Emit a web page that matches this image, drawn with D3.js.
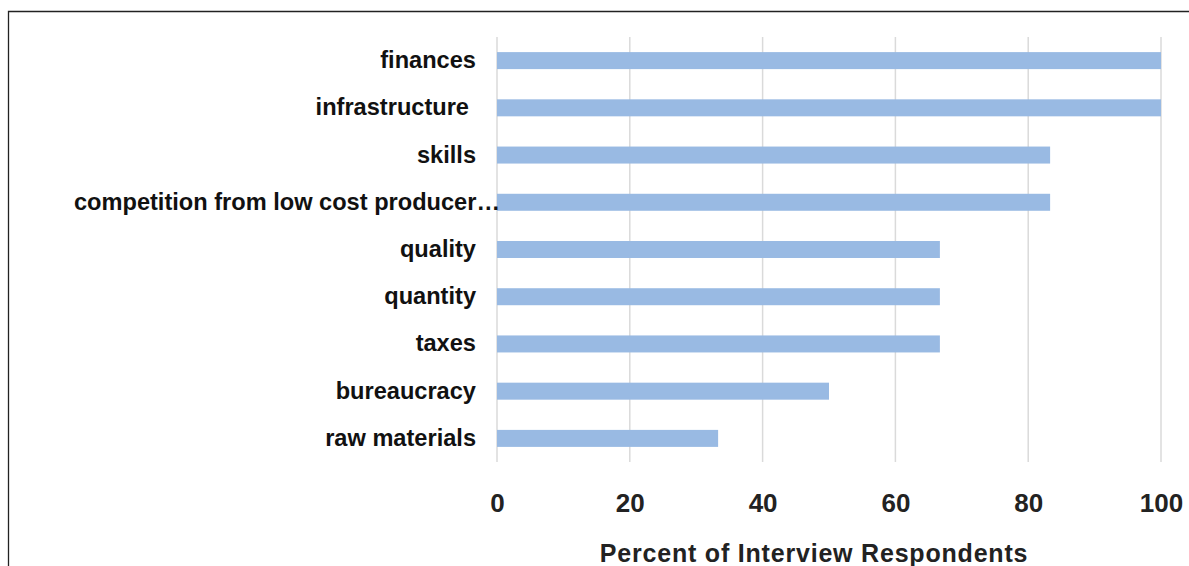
<!DOCTYPE html>
<html>
<head>
<meta charset="utf-8">
<script src="https://cdn.jsdelivr.net/npm/d3@7"></script>
<style>
  html, body { margin: 0; padding: 0; background: #fff; }
  svg { display: block; }
</style>
</head>
<body>
<svg id="chart" width="1189" height="566"></svg>
<script>
// Obstacles reported by interview respondents
const categories = [
  "finances",
  "infrastructure",
  "skills",
  "competition from low cost producer\u2026",
  "quality",
  "quantity",
  "taxes",
  "bureaucracy",
  "raw materials"
];
const percentValues = [100, 100, 83.3, 83.3, 66.7, 66.7, 66.7, 50, 33.3];
const tickValues = [0, 20, 40, 60, 80, 100];
const axisTitle = "Percent of Interview Respondents";

const svg = d3.select("#chart");
const W = 1189, H = 566;
const plot = { left: 497, right: 1161, top: 37, bottom: 462 };
const font = "Liberation Sans, Arial, sans-serif";

// frame around the figure
svg.append("path")
  .attr("d", `M8.5,${H} V11.5 H${W}`)
  .attr("fill", "none")
  .attr("stroke", "#222")
  .attr("stroke-width", 1.3);

const x = d3.scaleLinear().domain([0, 100]).range([plot.left, plot.right]);
const y = d3.scaleBand().domain(categories).range([plot.top, plot.bottom]).paddingInner(0.64).paddingOuter(0.32);

// vertical gridlines
svg.append("g")
  .selectAll("line")
  .data(tickValues)
  .join("line")
  .attr("x1", d => x(d)).attr("x2", d => x(d))
  .attr("y1", plot.top).attr("y2", plot.bottom)
  .attr("stroke", "#dadada")
  .attr("stroke-width", 1.5);

// bars
svg.append("g")
  .selectAll("rect")
  .data(categories)
  .join("rect")
  .attr("x", x(0))
  .attr("y", d => y(d))
  .attr("width", (d, i) => x(percentValues[i]) - x(0))
  .attr("height", y.bandwidth())
  .attr("fill", "#99bae3");

// category labels
const labelX = { "infrastructure": 469, "competition from low cost producer\u2026": 500 };
svg.append("g")
  .selectAll("text")
  .data(categories)
  .join("text")
  .attr("x", d => labelX[d] !== undefined ? labelX[d] : 476)
  .attr("y", d => y(d) + y.bandwidth() / 2)
  .attr("dy", "0.32em")
  .attr("text-anchor", "end")
  .attr("font-family", font)
  .attr("font-weight", "bold")
  .attr("font-size", 23.6)
  .attr("fill", "#111")
  .text(d => d);

// x axis tick labels
const axis = d3.axisBottom(x).tickValues(tickValues).tickSize(0).tickPadding(0);
const gAxis = svg.append("g")
  .attr("transform", `translate(0, 512)`)
  .call(axis);
gAxis.select(".domain").remove();
gAxis.selectAll("text")
  .attr("y", 0)
  .attr("dy", 0)
  .attr("font-family", font)
  .attr("font-weight", "bold")
  .attr("font-size", 26)
  .attr("fill", "#222");

// axis title
svg.append("text")
  .attr("x", 814)
  .attr("y", 562)
  .attr("text-anchor", "middle")
  .attr("font-family", font)
  .attr("font-weight", "bold")
  .attr("font-size", 25)
  .attr("letter-spacing", 0.8)
  .attr("fill", "#222")
  .text(axisTitle);
</script>
</body>
</html>
